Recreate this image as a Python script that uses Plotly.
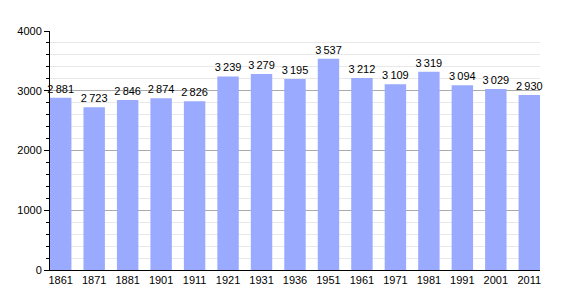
import plotly.graph_objects as go

years = ["1861", "1871", "1881", "1901", "1911", "1921", "1931", "1936",
         "1951", "1961", "1971", "1981", "1991", "2001", "2011"]
population = [2881, 2723, 2846, 2874, 2826, 3239, 3279, 3195,
              3537, 3212, 3109, 3319, 3094, 3029, 2930]
labels = [f"{v // 1000}\u2009{v % 1000:03d}" for v in population]

fig = go.Figure(go.Bar(
    x=years, y=population, text=labels, textposition="outside",
    textfont=dict(color="black", size=11, family="Liberation Sans, Arial"),
    constraintext="none",
    marker=dict(color="#99AAFF", line=dict(width=0)),
    width=0.64, cliponaxis=False,
))

fig.update_layout(
    width=570, height=300,
    margin=dict(l=50, r=30, t=31, b=30),
    paper_bgcolor="white", plot_bgcolor="white",
    showlegend=False,
    font=dict(family="Liberation Sans, Arial", size=11, color="black"),
    xaxis=dict(
        type="category", range=[-0.32, 14.32],
        showline=True, linecolor="black", linewidth=1,
        ticks="", showgrid=False, tickfont=dict(size=11),
    ),
    yaxis=dict(
        range=[0, 4000], tickvals=[0, 1000, 2000, 3000, 4000],
        showline=True, linecolor="black", linewidth=1,
        ticks="outside", ticklen=5, tickcolor="black",
        gridcolor="#AAAAAA", gridwidth=1, zeroline=False,
        minor=dict(dtick=200, showgrid=True, gridcolor="#E8E8E8",
                   ticks="outside", ticklen=3, tickcolor="black"),
        tickfont=dict(size=11),
    ),
    bargap=0.36,
)

fig.write_html("out.html")
